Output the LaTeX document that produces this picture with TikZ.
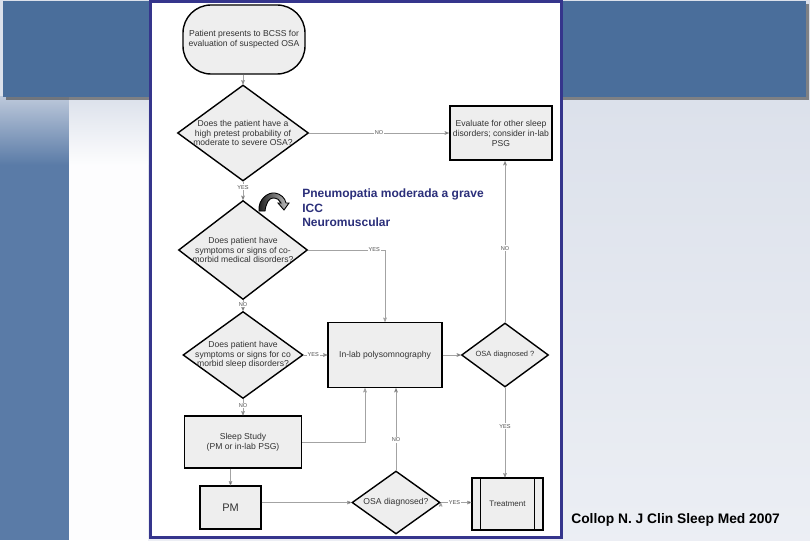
\documentclass[tikz,border=0pt]{standalone}
\usepackage{fontspec}
\setmainfont{Liberation Sans}
\usepackage{tikz}
\usetikzlibrary{arrows,shapes.geometric,positioning}

\definecolor{slideblue}{HTML}{4A6E9B}
\definecolor{stripblue}{HTML}{5A7BA7}
\definecolor{slidebg}{HTML}{DCE1EB}
\definecolor{frameblue}{HTML}{35358C}
\definecolor{notenavy}{HTML}{2B2F7A}
\definecolor{linegray}{HTML}{A3A3A3}
\definecolor{boxfill}{HTML}{EEEEEE}

\begin{document}
\begin{tikzpicture}[x=1pt,y=-1pt,>=stealth',semithick]
	\tikzstyle{box}=[draw,fill=boxfill,line width=1.4pt,inner sep=2pt,align=center,text=black!80,font=\fontsize{8.6}{10}\selectfont]
	\tikzstyle{dec}=[box,diamond,inner sep=0pt]
	\tikzstyle{txt}=[align=center,inner sep=0pt,text=black!80,font=\fontsize{8.6}{9.5}\selectfont]
	\tikzstyle{conn}=[->,draw=linegray,line width=0.6pt]
	\tikzstyle{lab}=[fill=white,inner sep=0.8pt,text=black!70,font=\fontsize{5.6}{6}\selectfont]

	% slide background
	\useasboundingbox (0,0) rectangle (810,540);
	\fill[slidebg] (0,0) rectangle (810,540);
	\shade[top color=slidebg,bottom color=slidebg!55!white] (148,100) rectangle (810,540);
	\fill[stripblue] (0,165) rectangle (69,540);
	\shade[top color=slidebg!75!stripblue,bottom color=stripblue] (0,97) rectangle (69,165);
	\fill[white!94!slidebg] (69,165) rectangle (148,540);
	\shade[top color=slidebg,bottom color=white!94!slidebg] (69,97) rectangle (148,165);
	\fill[black!75,opacity=.6] (6,4) rectangle (809,100);
	\fill[slideblue] (3,1) rectangle (806,97);
	\draw[frameblue,line width=3pt,fill=white] (150,2) rectangle (561,537);

	% flowchart
	\node[box,rounded corners=28pt,minimum width=122pt,minimum height=69pt] (1) at (244,39.5) {Patient presents to BCSS for\\evaluation of suspected OSA};
	\node[dec,minimum width=131pt,minimum height=96pt,label={[txt]center:Does the patient have a\\high pretest probability of\\moderate to severe OSA?}] (2) at (243,133) {};
	\node[box,line width=2.4pt,minimum width=102pt,minimum height=54pt] (3) at (501,133) {Evaluate for other sleep\\disorders; consider in-lab\\PSG};
	\node[dec,minimum width=129pt,minimum height=99pt,label={[txt]center:Does patient have\\symptoms or signs of co-\\morbid medical disorders?}] (4) at (243,250) {};
	\node[dec,minimum width=120pt,minimum height=87pt,label={[txt]center:Does patient have\\symptoms or signs for co\\morbid sleep disorders?}] (5) at (243,355) {};
	\node[box,minimum width=114pt,minimum height=65pt] (6) at (385,355) {In-lab polysomnography};
	\node[dec,minimum width=87pt,minimum height=64pt,label={[txt,font=\fontsize{7.5}{8}\selectfont]center:OSA diagnosed ?}] (7) at (505,355) {};
	\node[box,minimum width=117pt,minimum height=52pt] (8) at (243,442) {Sleep Study\\(PM or in-lab PSG)};
	\node[box,minimum width=61pt,minimum height=43pt,font=\fontsize{11}{12}\selectfont] (9) at (230.5,507.5) {PM};
	\node[dec,minimum width=88pt,minimum height=63pt,label={[txt]center:OSA diagnosed?}] (10) at (396,502.5) {};
	\node[box,minimum width=71pt,minimum height=52pt,font=\fontsize{8}{9}\selectfont] (11) at (507.5,504) {Treatment};
	\draw[line width=1.4pt] ([xshift=9pt]11.north west) -- ([xshift=9pt]11.south west)
		([xshift=-9pt]11.north east) -- ([xshift=-9pt]11.south east);

	\path[conn]
	(1.south -| 2.north) edge (2.north)
	(2) edge node[lab] {NO} (3)
	(2) edge node[lab,pos=.3] {YES} (4)
	(4) edge node[lab,pos=.4] {NO} (5)
	(5) edge node[lab,pos=.4] {YES} (6)
	(5) edge node[lab,pos=.4] {NO} (8)
	(6) edge (7)
	(7.north) edge node[lab,pos=.46] {NO} (7.north |- 3.south)
	(7.south) edge node[lab,pos=.43] {YES} (7.south |- 11.north)
	(8.south -| 9.north) edge (9.north)
	(9.east |- 10.west) edge (10.west)
	(10.north) edge node[lab,pos=.37] {NO} (10.north |- 6.south)
	(10.east) edge node[lab,pos=.45] {YES} (10.east -| 11.west);
	\draw[conn] (4.east) -| node[lab,pos=.43] {YES} (6.north);
	\draw[conn] (8.east) -| ([xshift=-20pt]6.south);

	% note
	\shadedraw[left color=gray!20!black,right color=gray!45,draw=black,line width=0.9pt]
		(259,211) .. controls (258,199) and (268,192) .. (275,193)
		.. controls (281,194) and (285,198) .. (286,203) -- (289,203) -- (284,210) -- (278,203) -- (281,203)
		.. controls (280,200) and (277,198) .. (273,198)
		.. controls (269,198) and (266,203) .. (265,211) -- cycle;
	\node[anchor=north west,align=left,inner sep=0pt,text=notenavy,font=\fontsize{12}{14.5}\selectfont\bfseries] (note) at (302,189) {Pneumopatia moderada a grave\\ICC\\Neuromuscular};

	\node[anchor=base west,inner sep=0pt,font=\fontsize{13.8}{15}\selectfont\bfseries] (ref) at (571,523) {Collop N. J Clin Sleep Med 2007};
\end{tikzpicture}
\end{document}
